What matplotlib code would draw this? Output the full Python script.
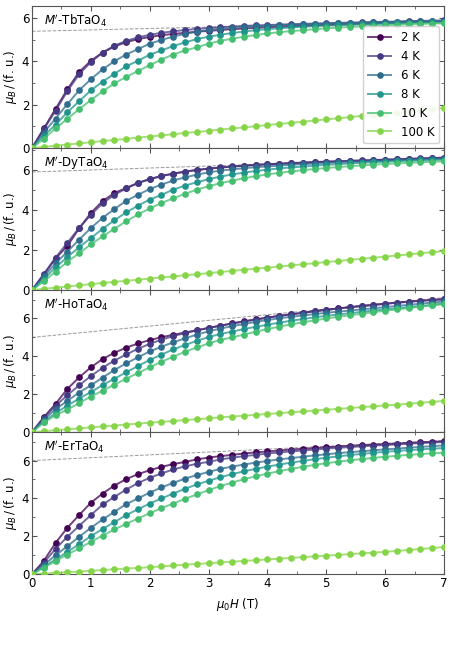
import numpy as np
import matplotlib
matplotlib.use("Agg")
import matplotlib.pyplot as plt
from matplotlib.ticker import MultipleLocator

# ── Data ───────────────────────────────────────────────────────────────────────
FIELD = [0.0, 0.2, 0.4, 0.6, 0.8, 1.0, 1.2, 1.4, 1.6, 1.8, 2.0, 2.2, 2.4, 2.6,
         2.8, 3.0, 3.2, 3.4, 3.6, 3.8, 4.0, 4.2, 4.4, 4.6, 4.8, 5.0, 5.2, 5.4,
         5.6, 5.8, 6.0, 6.2, 6.4, 6.6, 6.8, 7.0]
TEMPS = ["2 K", "4 K", "6 K", "8 K", "10 K", "100 K"]
COMPOUNDS = ["TbTaO", "DyTaO", "HoTaO", "ErTaO"]

TB_2K = [0, 0.90, 1.80, 2.70, 3.50, 4.02, 4.40, 4.68, 4.88, 5.02, 5.12, 5.20, 5.26, 5.31, 5.36, 5.40, 5.44, 5.48,
         5.51, 5.54, 5.57, 5.59, 5.61, 5.63, 5.65, 5.67, 5.69, 5.71, 5.73, 5.74, 5.76, 5.78, 5.79, 5.81, 5.82, 5.84]
TB_4K = [0, 0.86, 1.72, 2.62, 3.40, 3.96, 4.40, 4.72, 4.94, 5.10, 5.22, 5.31, 5.38, 5.44, 5.49, 5.53, 5.57, 5.60,
         5.63, 5.65, 5.67, 5.69, 5.71, 5.72, 5.74, 5.75, 5.77, 5.78, 5.79, 5.81, 5.82, 5.83, 5.85, 5.86, 5.87, 5.88]
TB_6K = [0, 0.71, 1.36, 2.02, 2.66, 3.17, 3.63, 4.00, 4.31, 4.56, 4.81, 4.98, 5.14, 5.26, 5.36, 5.44, 5.50, 5.54,
         5.58, 5.61, 5.64, 5.66, 5.68, 5.70, 5.72, 5.74, 5.75, 5.77, 5.78, 5.79, 5.80, 5.82, 5.83, 5.84, 5.85, 5.86]
TB_8K = [0, 0.57, 1.07, 1.65, 2.15, 2.66, 3.06, 3.42, 3.77, 4.02, 4.30, 4.50, 4.70, 4.87, 5.02, 5.13, 5.22, 5.30,
         5.37, 5.43, 5.48, 5.52, 5.56, 5.59, 5.62, 5.64, 5.66, 5.68, 5.70, 5.72, 5.74, 5.75, 5.77, 5.78, 5.79, 5.80]
TB_10K = [0, 0.42, 0.91, 1.34, 1.79, 2.21, 2.61, 2.98, 3.28, 3.55, 3.82, 4.08, 4.31, 4.50, 4.64, 4.81, 4.94, 5.04,
          5.13, 5.21, 5.28, 5.34, 5.39, 5.43, 5.48, 5.52, 5.55, 5.58, 5.61, 5.63, 5.66, 5.68, 5.70, 5.72, 5.74, 5.75]
TB_100K = [0, 0.05, 0.11, 0.16, 0.21, 0.27, 0.32, 0.37, 0.42, 0.48, 0.53, 0.58, 0.64, 0.69, 0.74, 0.79, 0.85, 0.90,
           0.95, 1.00, 1.06, 1.11, 1.16, 1.21, 1.27, 1.32, 1.37, 1.42, 1.48, 1.53, 1.58, 1.63, 1.69, 1.74, 1.79, 1.85]

DY_2K = [0, 0.77, 1.58, 2.20, 3.08, 3.85, 4.45, 4.85, 5.10, 5.35, 5.54, 5.70, 5.82, 5.92, 6.00, 6.07, 6.12, 6.17,
         6.21, 6.25, 6.28, 6.31, 6.34, 6.36, 6.39, 6.41, 6.43, 6.45, 6.47, 6.49, 6.51, 6.53, 6.55, 6.57, 6.59, 6.61]
DY_4K = [0, 0.80, 1.62, 2.36, 3.10, 3.76, 4.34, 4.76, 5.08, 5.36, 5.55, 5.70, 5.82, 5.92, 6.00, 6.07, 6.13, 6.18,
         6.22, 6.26, 6.29, 6.32, 6.35, 6.37, 6.40, 6.42, 6.44, 6.46, 6.48, 6.50, 6.52, 6.54, 6.56, 6.58, 6.60, 6.62]
DY_6K = [0, 0.68, 1.33, 1.92, 2.52, 3.10, 3.61, 4.05, 4.46, 4.76, 5.05, 5.27, 5.48, 5.63, 5.77, 5.88, 5.97, 6.03,
         6.09, 6.14, 6.18, 6.22, 6.26, 6.29, 6.32, 6.35, 6.38, 6.40, 6.42, 6.45, 6.47, 6.49, 6.51, 6.53, 6.55, 6.57]
DY_8K = [0, 0.54, 1.14, 1.65, 2.14, 2.60, 3.06, 3.49, 3.88, 4.22, 4.52, 4.76, 5.02, 5.22, 5.39, 5.54, 5.67, 5.78,
         5.87, 5.95, 6.02, 6.08, 6.13, 6.17, 6.22, 6.26, 6.29, 6.33, 6.36, 6.39, 6.41, 6.44, 6.46, 6.48, 6.50, 6.52]
DY_10K = [0, 0.43, 0.92, 1.41, 1.84, 2.28, 2.69, 3.06, 3.44, 3.78, 4.08, 4.35, 4.59, 4.81, 5.02, 5.19, 5.34, 5.47,
          5.59, 5.69, 5.78, 5.86, 5.93, 5.99, 6.05, 6.10, 6.15, 6.19, 6.23, 6.27, 6.30, 6.33, 6.36, 6.39, 6.41, 6.43]
DY_100K = [0, 0.06, 0.12, 0.18, 0.24, 0.30, 0.35, 0.41, 0.46, 0.52, 0.57, 0.63, 0.68, 0.74, 0.79, 0.85, 0.90, 0.96,
           1.01, 1.07, 1.12, 1.18, 1.23, 1.29, 1.34, 1.40, 1.45, 1.51, 1.56, 1.62, 1.67, 1.73, 1.78, 1.84, 1.89, 1.95]

HO_2K = [0, 0.79, 1.49, 2.28, 2.89, 3.42, 3.86, 4.19, 4.46, 4.68, 4.86, 5.01, 5.14, 5.26, 5.38, 5.50, 5.62, 5.74,
         5.85, 5.95, 6.05, 6.14, 6.22, 6.30, 6.38, 6.46, 6.53, 6.60, 6.66, 6.72, 6.78, 6.84, 6.89, 6.94, 6.98, 7.02]
HO_4K = [0, 0.74, 1.39, 1.95, 2.47, 2.96, 3.40, 3.78, 4.10, 4.40, 4.66, 4.88, 5.07, 5.23, 5.37, 5.50, 5.62, 5.73,
         5.84, 5.94, 6.04, 6.13, 6.22, 6.30, 6.38, 6.45, 6.52, 6.59, 6.65, 6.71, 6.77, 6.83, 6.88, 6.93, 6.97, 7.01]
HO_6K = [0, 0.65, 1.21, 1.65, 2.09, 2.47, 2.88, 3.28, 3.63, 3.95, 4.26, 4.51, 4.74, 4.95, 5.15, 5.32, 5.47, 5.59,
         5.71, 5.82, 5.92, 6.01, 6.09, 6.16, 6.23, 6.30, 6.36, 6.42, 6.48, 6.54, 6.60, 6.66, 6.72, 6.78, 6.84, 6.90]
HO_8K = [0, 0.56, 1.00, 1.40, 1.77, 2.12, 2.49, 2.82, 3.16, 3.49, 3.81, 4.09, 4.37, 4.60, 4.82, 5.02, 5.18, 5.31,
         5.44, 5.56, 5.67, 5.78, 5.88, 5.97, 6.06, 6.14, 6.21, 6.28, 6.35, 6.42, 6.48, 6.54, 6.60, 6.66, 6.72, 6.80]
HO_10K = [0, 0.51, 0.89, 1.19, 1.53, 1.88, 2.19, 2.51, 2.82, 3.12, 3.42, 3.72, 3.98, 4.25, 4.47, 4.68, 4.87, 5.00,
          5.15, 5.30, 5.44, 5.57, 5.69, 5.80, 5.90, 6.00, 6.09, 6.17, 6.25, 6.33, 6.41, 6.48, 6.55, 6.62, 6.69, 6.76]
HO_100K = [0, 0.05, 0.10, 0.15, 0.20, 0.25, 0.30, 0.35, 0.40, 0.45, 0.50, 0.54, 0.59, 0.64, 0.68, 0.73, 0.78, 0.82,
           0.87, 0.91, 0.96, 1.00, 1.05, 1.09, 1.14, 1.18, 1.23, 1.27, 1.32, 1.36, 1.41, 1.45, 1.50, 1.55, 1.60, 1.65]

ER_2K = [0, 0.70, 1.65, 2.45, 3.12, 3.77, 4.26, 4.68, 5.02, 5.28, 5.49, 5.67, 5.81, 5.93, 6.06, 6.16, 6.23, 6.30,
         6.37, 6.43, 6.48, 6.53, 6.58, 6.62, 6.66, 6.70, 6.74, 6.78, 6.81, 6.84, 6.87, 6.90, 6.93, 6.96, 6.99, 7.02]
ER_4K = [0, 0.60, 1.34, 1.97, 2.55, 3.12, 3.68, 4.08, 4.47, 4.81, 5.09, 5.32, 5.53, 5.69, 5.83, 5.93, 6.06, 6.15,
         6.23, 6.30, 6.37, 6.43, 6.48, 6.53, 6.58, 6.63, 6.67, 6.71, 6.75, 6.79, 6.82, 6.85, 6.89, 6.92, 6.95, 6.98]
ER_6K = [0, 0.48, 1.00, 1.48, 1.97, 2.45, 2.89, 3.29, 3.70, 4.00, 4.31, 4.58, 4.82, 5.05, 5.23, 5.40, 5.56, 5.68,
         5.79, 5.89, 5.98, 6.06, 6.13, 6.20, 6.27, 6.33, 6.39, 6.44, 6.49, 6.54, 6.59, 6.63, 6.68, 6.72, 6.76, 6.80]
ER_8K = [0, 0.39, 0.77, 1.18, 1.58, 2.01, 2.39, 2.75, 3.12, 3.43, 3.73, 4.00, 4.26, 4.51, 4.74, 4.93, 5.12, 5.28,
         5.43, 5.56, 5.68, 5.79, 5.89, 5.98, 6.07, 6.15, 6.22, 6.29, 6.35, 6.41, 6.46, 6.51, 6.55, 6.59, 6.63, 6.66]
ER_10K = [0, 0.35, 0.69, 1.04, 1.36, 1.71, 2.04, 2.36, 2.66, 2.94, 3.22, 3.49, 3.73, 3.98, 4.21, 4.44, 4.65, 4.84,
          5.01, 5.17, 5.31, 5.44, 5.56, 5.67, 5.77, 5.86, 5.94, 6.01, 6.08, 6.14, 6.20, 6.25, 6.30, 6.34, 6.38, 6.42]
ER_100K = [0, 0.03, 0.07, 0.11, 0.14, 0.18, 0.22, 0.26, 0.30, 0.33, 0.37, 0.41, 0.46, 0.50, 0.54, 0.58, 0.62, 0.66,
           0.70, 0.74, 0.78, 0.82, 0.86, 0.90, 0.94, 0.98, 1.02, 1.06, 1.10, 1.14, 1.18, 1.23, 1.28, 1.33, 1.38, 1.44]

# high-field linear fits (grey dashed): intercept and slope per compound
FIT_INTERCEPT = [5.38, 5.90, 5.00, 6.00]
FIT_SLOPE = [0.065, 0.10, 0.30, 0.15]
Y_TOP = [6.55, 7.1, 7.5, 7.5]

PANELS = [
    [TB_2K, TB_4K, TB_6K, TB_8K, TB_10K, TB_100K],
    [DY_2K, DY_4K, DY_6K, DY_8K, DY_10K, DY_100K],
    [HO_2K, HO_4K, HO_6K, HO_8K, HO_10K, HO_100K],
    [ER_2K, ER_4K, ER_6K, ER_8K, ER_10K, ER_100K],
]

# ── Style ──────────────────────────────────────────────────────────────────────
COLORS = plt.cm.viridis([0.0, 0.17, 0.35, 0.52, 0.70, 0.82])
FS = 8.5

plt.rcParams.update({
    "font.family": "DejaVu Sans",
    "font.size": FS,
    "mathtext.fontset": "dejavusans",
    "axes.edgecolor": "#555555",
    "xtick.color": "#555555",
    "ytick.color": "#555555",
    "xtick.labelcolor": "black",
    "ytick.labelcolor": "black",
})


def main():
    fig, axes = plt.subplots(4, 1, figsize=(4.54, 6.60), dpi=100, sharex=True)
    fig.subplots_adjust(left=0.0705, right=0.978, top=0.991, bottom=0.130, hspace=0)

    for k, ax in enumerate(axes):
        ax.plot([0, 7], [FIT_INTERCEPT[k], FIT_INTERCEPT[k] + 7 * FIT_SLOPE[k]],
                ls="--", color="#999999", lw=0.7, zorder=1)
        for j, (series, label) in enumerate(zip(PANELS[k], TEMPS)):
            c = COLORS[j]
            ax.plot(FIELD, series, "-o", color=(c[0], c[1], c[2], 0.75), lw=1.4,
                    ms=3.8, mfc=c, mec=c, label=label, zorder=2 + j)

        ax.text(0.03, 0.955, rf"$M'$-{COMPOUNDS[k]}$_4$", transform=ax.transAxes,
                ha="left", va="top", fontsize=FS)
        ax.set_xlim(0, 7)
        ax.set_ylim(0, Y_TOP[k])
        ax.set_ylabel(r"$\mu_B\,/\,$(f. u.)", fontsize=FS, labelpad=2)
        ax.yaxis.set_major_locator(MultipleLocator(2))
        ax.yaxis.set_minor_locator(MultipleLocator(1))
        ax.xaxis.set_major_locator(MultipleLocator(1))
        ax.xaxis.set_minor_locator(MultipleLocator(0.5))
        ax.tick_params(which="both", direction="in", top=True, right=True)
        ax.tick_params(which="major", length=3.5, pad=2)
        ax.tick_params(which="minor", length=2)

    leg = axes[0].legend(loc="lower right", fontsize=FS, borderaxespad=0.4, framealpha=0.9)
    leg.set_zorder(20)
    axes[-1].set_xlabel(r"$\mu_0H$ (T)", fontsize=FS)

    fig.savefig("out.png", dpi=100)
    plt.close(fig)


if __name__ == "__main__":
    main()
